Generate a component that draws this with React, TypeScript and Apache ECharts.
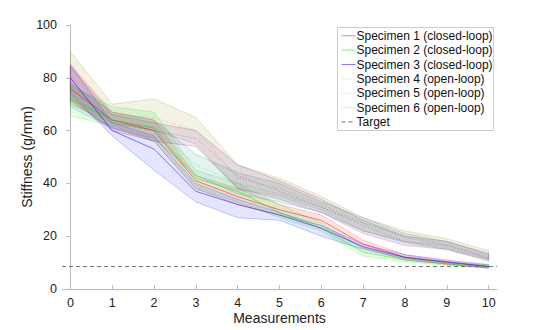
import React, { useEffect, useRef } from "react";
import * as echarts from "echarts";

const measurements = [0, 1, 2, 3, 4, 5, 6, 7, 8, 9, 10];
const xTicks = [0, 1, 2, 3, 4, 5, 6, 7, 8, 9, 10];
const targetValue = 8.5;

const names = [
  "Specimen 1 (closed-loop)",
  "Specimen 2 (closed-loop)",
  "Specimen 3 (closed-loop)",
  "Specimen 4 (open-loop)",
  "Specimen 5 (open-loop)",
  "Specimen 6 (open-loop)",
];

const s1Mean = [76, 64, 60, 41, 35, 30, 26, 17, 12, 10, 8.5];
const s1Low = [71, 61, 56, 38, 32, 28, 24, 15.5, 11, 9.3, 8];
const s1High = [85, 67, 64, 43, 38, 32, 28, 18.5, 13, 10.5, 9];

const s2Mean = [72, 64, 61, 42, 37, 29, 23, 14, 11, 9.5, 8.5];
const s2Low = [65.5, 62, 56, 38, 33, 27, 22, 12.5, 10.3, 9, 8];
const s2High = [77, 69, 67, 45, 40, 32, 25, 15.5, 12, 10, 9.2];

const s3Mean = [80, 60, 53, 37, 32, 28, 23, 16, 12, 10.3, 8.5];
const s3Low = [74, 58, 45, 33, 27, 26, 20, 15, 11.5, 9.5, 7.8];
const s3High = [85, 63, 58, 40, 34, 29, 24, 17, 13, 11, 9.3];

const s4Mean = [74, 66, 65, 60, 42, 38, 32, 25, 20, 17, 12.5];
const s4Low = [70, 63, 60, 55, 38, 35, 30, 22, 18, 15.5, 11.5];
const s4High = [90, 70, 72, 65, 47, 42, 35, 27, 22, 19, 14.5];

const s5Mean = [73, 64, 61, 47, 40, 36, 31, 25, 19.5, 16.5, 11.5];
const s5Low = [69, 61, 57, 43, 36, 33, 29, 22, 17.5, 15, 10.5];
const s5High = [78, 67, 64, 51, 44, 40, 33, 27, 21, 18, 13];

const s6Mean = [78, 63, 60, 57, 43, 37, 31, 24, 18, 16.5, 12];
const s6Low = [72, 60, 56, 54, 38, 34, 29, 21, 16.5, 15, 11];
const s6High = [84, 66, 63, 60, 47, 41, 34, 26, 20, 18, 13.5];

const specimens = [
  { mean: s1Mean, low: s1Low, high: s1High, rgb: "255,0,0", open: false },
  { mean: s2Mean, low: s2Low, high: s2High, rgb: "0,230,0", open: false },
  { mean: s3Mean, low: s3Low, high: s3High, rgb: "0,0,255", open: false },
  { mean: s4Mean, low: s4Low, high: s4High, rgb: "128,128,0", open: true },
  { mean: s5Mean, low: s5Low, high: s5High, rgb: "0,128,128", open: true },
  { mean: s6Mean, low: s6Low, high: s6High, rgb: "128,0,128", open: true },
];

const FONT = "Liberation Sans, Arial, Helvetica, sans-serif";
const TARGET_COLOR = "#707070";

const lineColor = (s: any) => (s.open ? `rgba(${s.rgb},0.35)` : `rgba(${s.rgb},0.5)`);
const lineDash = (s: any) => (s.open ? [1, 2] : null);

export default function App() {
  const ref = useRef<HTMLDivElement>(null);
  useEffect(() => {
    if (!ref.current) return;
    const chart = echarts.init(ref.current, null, { renderer: "svg" });
    const series: any[] = [];
    specimens.forEach((s, i) => {
      series.push({
        name: "band-" + i,
        type: "custom",
        data: measurements.map((x, k) => [x, s.low[k], s.high[k]]),
        encode: { x: 0, y: [1, 2] },
        silent: true,
        z: 1,
        renderItem: (params: any, api: any) => {
          if (params.dataIndex !== 0) return null;
          const upper = measurements.map((x, k) => api.coord([x, s.high[k]]));
          const lower = measurements.map((x, k) => api.coord([x, s.low[k]])).reverse();
          return {
            type: "polygon",
            shape: { points: upper.concat(lower) },
            style: {
              fill: `rgba(${s.rgb},0.1)`,
              stroke: `rgba(${s.rgb},0.2)`,
              lineWidth: 1,
            },
          };
        },
      });
    });
    specimens.forEach((s, i) => {
      series.push({
        name: names[i],
        type: "line",
        data: measurements.map((x, k) => [x, s.mean[k]]),
        symbol: "none",
        lineStyle: s.open
          ? { color: lineColor(s), width: 1, type: [1, 2] }
          : { color: lineColor(s), width: 1 },
        z: 3,
      });
    });
    series.push({
      name: "Target",
      type: "line",
      data: [
        [-0.2, targetValue],
        [10.2, targetValue],
      ],
      symbol: "none",
      lineStyle: { color: TARGET_COLOR, width: 1, type: [4, 3] },
      z: 4,
    });

    const legendItems = [
      ...specimens.map((s, i) => ({ name: names[i], color: lineColor(s), dash: lineDash(s) })),
      { name: "Target", color: TARGET_COLOR, dash: [4, 3] },
    ];
    const lx = 337;
    const ly = 27;
    const rowH = 14.35;
    const children: any[] = [
      {
        type: "rect",
        shape: { x: lx + 0.5, y: ly + 0.5, width: 156, height: 103 },
        style: { fill: "#fff", stroke: "#cccccc", lineWidth: 1 },
      },
    ];
    legendItems.forEach((it, i) => {
      const cy = ly + 8.8 + i * rowH;
      children.push({
        type: "line",
        shape: { x1: lx + 4.5, y1: cy, x2: lx + 18.5, y2: cy },
        style: { stroke: it.color, lineWidth: 1, lineDash: it.dash || undefined },
      });
      children.push({
        type: "text",
        x: lx + 19.5,
        y: cy,
        style: {
          text: it.name,
          fontFamily: FONT,
          fontSize: 12,
          fill: "#111",
          verticalAlign: "middle",
          align: "left",
        },
      });
    });

    chart.setOption({
      animation: false,
      grid: { left: 62, right: 41, top: 25, bottom: 37 },
      graphic: [{ type: "group", z: 100, children }],
      xAxis: {
        type: "value",
        min: -0.2,
        max: 10.2,
        name: "Measurements",
        nameLocation: "middle",
        nameGap: 22,
        nameMoveOverlap: false,
        nameTextStyle: { fontFamily: FONT, fontSize: 14, color: "#222" },
        axisLine: { lineStyle: { color: "#bdbdbd" } },
        axisTick: { inside: true, length: 4, lineStyle: { color: "#bdbdbd" }, customValues: xTicks },
        axisLabel: { fontFamily: FONT, fontSize: 12.5, color: "#222", margin: 7, customValues: xTicks },
        splitLine: { show: false },
      },
      yAxis: {
        type: "value",
        min: 0,
        max: 100,
        interval: 20,
        name: "Stiffness (g/mm)",
        nameLocation: "middle",
        nameGap: 28,
        nameMoveOverlap: false,
        nameTextStyle: { fontFamily: FONT, fontSize: 14, color: "#222" },
        axisLine: { show: true, lineStyle: { color: "#bdbdbd" } },
        axisTick: { show: true, length: 4, lineStyle: { color: "#bdbdbd" } },
        axisLabel: { fontFamily: FONT, fontSize: 12.5, color: "#222", margin: 5 },
        splitLine: { show: false },
      },
      series,
    });
    return () => chart.dispose();
  }, []);
  return <div ref={ref} style={{ width: 538, height: 330, position: "absolute", left: 0, top: 0 }} />;
}
